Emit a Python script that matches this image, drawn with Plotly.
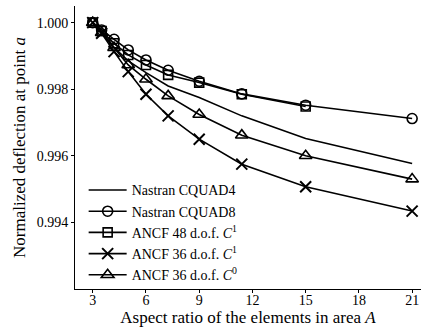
import plotly.graph_objects as go

x_all = [3, 3.5, 4.2, 5, 6, 7.25, 9, 11.4, 15, 21]
x_48 = [3, 3.5, 4.2, 5, 6, 7.25, 9, 11.4, 15]

cquad4 = [1.000, 0.99972, 0.99925, 0.99885, 0.99850, 0.99810, 0.99775, 0.99720, 0.99652, 0.99577]
cquad8 = [1.000, 0.99978, 0.99950, 0.99918, 0.99888, 0.99857, 0.99824, 0.99786, 0.99752, 0.99712]
ancf48_c1 = [1.000, 0.99975, 0.99938, 0.99903, 0.99873, 0.99843, 0.99820, 0.99785, 0.99748]
ancf36_c1 = [1.000, 0.99968, 0.99913, 0.99853, 0.99785, 0.99720, 0.99650, 0.99575, 0.99507, 0.99434]
ancf36_c0 = [1.000, 0.99970, 0.99925, 0.99873, 0.99830, 0.99780, 0.99724, 0.99662, 0.99600, 0.99530]

names = ["Nastran CQUAD4", "Nastran CQUAD8", "ANCF 48 d.o.f. <i>C</i><sup>1</sup>",
         "ANCF 36 d.o.f. <i>C</i><sup>1</sup>", "ANCF 36 d.o.f. <i>C</i><sup>0</sup>"]

x_ticks = [3, 6, 9, 12, 15, 18, 21]
y_ticks = [0.994, 0.996, 0.998, 1.000]
y_tick_labels = ["0.994", "0.996", "0.998", "1.000"]

FONT = "Liberation Serif"
black = "black"
mline = dict(color=black, width=1.6)

fig = go.Figure()
fig.add_trace(go.Scatter(x=x_all, y=cquad4, mode="lines", name=names[0], line=dict(color=black, width=1.6)))
fig.add_trace(go.Scatter(x=x_all, y=cquad8, mode="lines+markers", name=names[1], line=dict(color=black, width=1.6),
                         marker=dict(symbol="circle-open", size=10, color=black, line=mline)))
fig.add_trace(go.Scatter(x=x_48, y=ancf48_c1, mode="lines+markers", name=names[2], line=dict(color=black, width=1.6),
                         marker=dict(symbol="square-open", size=9, color=black, line=mline)))
fig.add_trace(go.Scatter(x=x_all, y=ancf36_c1, mode="lines+markers", name=names[3], line=dict(color=black, width=1.6),
                         marker=dict(symbol="x-thin-open", size=11, color=black, line=dict(color=black, width=2))))
fig.add_trace(go.Scatter(x=x_all, y=ancf36_c0, mode="lines+markers", name=names[4], line=dict(color=black, width=1.6),
                         marker=dict(symbol="triangle-up-open", size=11, color=black, line=mline)))

fig.update_layout(
    width=423, height=331,
    margin=dict(l=75, r=2, t=6, b=42),
    paper_bgcolor="white", plot_bgcolor="white",
    font=dict(family=FONT, size=14, color=black),
    showlegend=True,
    legend=dict(x=0.025, y=-0.005, xanchor="left", yanchor="bottom",
                bgcolor="rgba(0,0,0,0)", font=dict(family=FONT, size=14, color=black),
                tracegroupgap=0, itemwidth=38),
    xaxis=dict(range=[2, 21.5], tickvals=x_ticks, ticks="outside", ticklen=3, tickcolor=black,
               showline=True, linecolor=black, linewidth=1, showgrid=False, zeroline=False,
               mirror=False, ticklabelstandoff=-5,
               title=dict(text="Aspect ratio of the elements in area <i>A</i>", standoff=0),
               tickfont=dict(family=FONT, size=14)),
    yaxis=dict(range=[0.992, 1.0005], tickvals=y_ticks, ticktext=y_tick_labels, ticks="outside", ticklen=3,
               tickcolor=black, showline=True, linecolor=black, linewidth=1, showgrid=False, zeroline=False,
               title=dict(text="Normalized deflection at point <i>a</i>", standoff=6),
               tickfont=dict(family=FONT, size=14)),
)

fig.write_html("out.html")
